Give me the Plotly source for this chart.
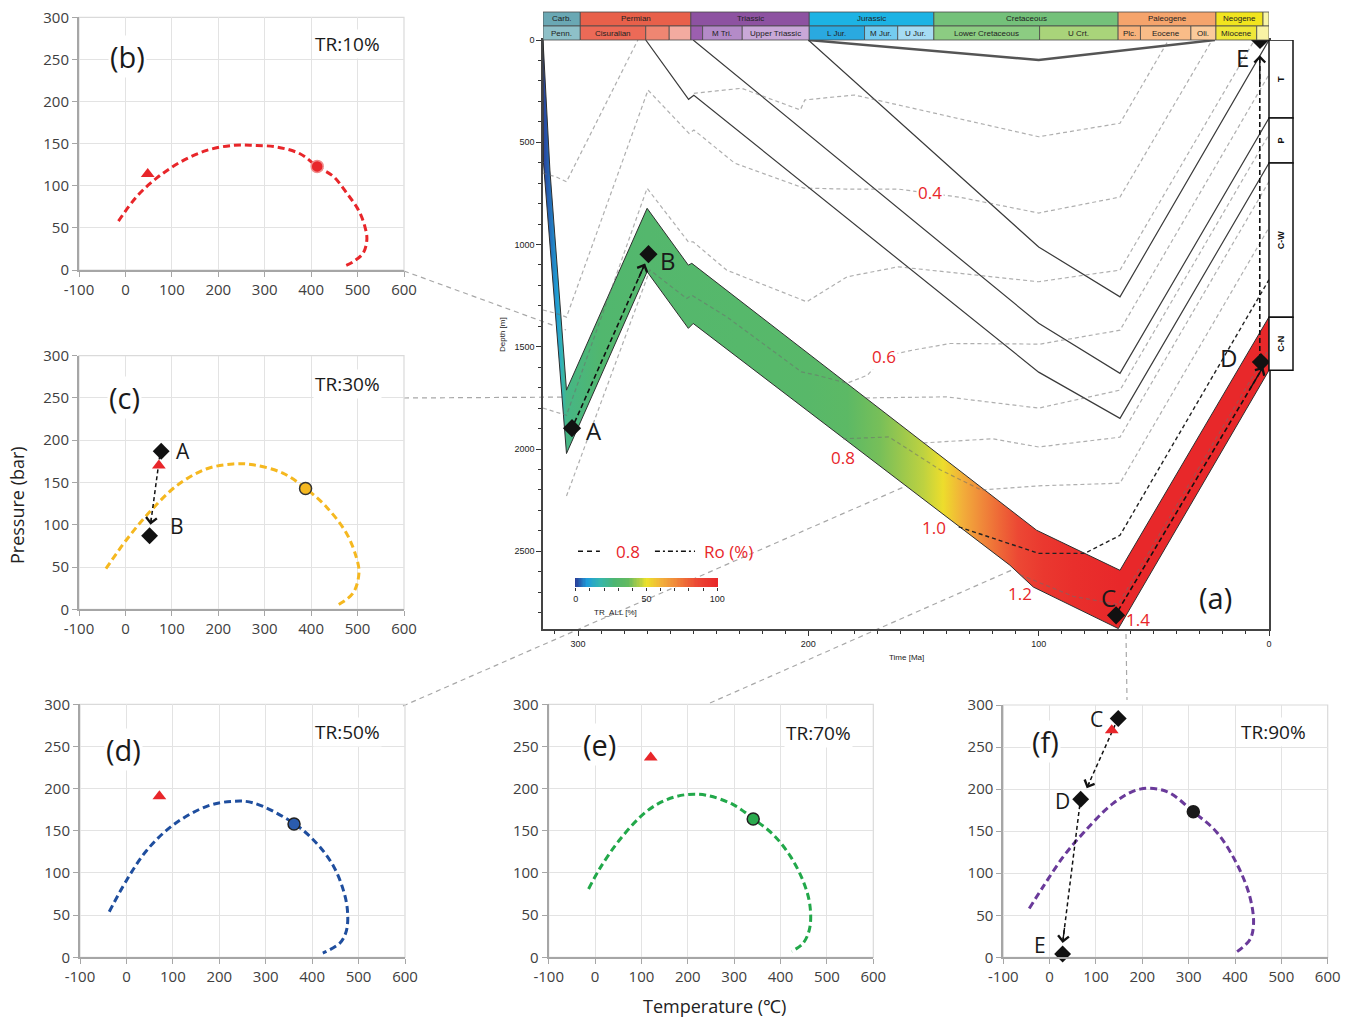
import plotly.graph_objects as go
from plotly.colors import sample_colorscale

W, H = 1357, 1019
SANS = "Open Sans, Noto Sans, sans-serif"
NARROW = "Liberation Sans Narrow, Liberation Sans, Arial, sans-serif"
RED = "#E8262A"

# ---------------------------------------------------------------- data (a)
time_ticks = [300, 200, 100, 0]
depth_ticks = [0, 500, 1000, 1500, 2000, 2500]

period_names = ["Carb.", "Permian", "Triassic", "Jurassic", "Cretaceous", "Paleogene", "Neogene", ""]
period_start = [315.2, 299.0, 251.0, 199.6, 145.5, 65.5, 23.03, 2.59]
period_end = [299.0, 251.0, 199.6, 145.5, 65.5, 23.03, 2.59, 0.0]
period_colors = ["#6AA8B4", "#E8604A", "#8D52A1", "#1CB3E4", "#74C17A", "#F5A46C", "#F1E41E", "#F8F6A6"]

epoch_names = ["Penn.", "Cisuralian", "", "", "", "M Tri.", "Upper Triassic", "L Jur.", "M Jur.",
               "U Jur.", "Lower Cretaceous", "U Crt.", "Plc.", "Eocene", "Oli.", "Miocene", ""]
epoch_start = [315.2, 299.0, 270.6, 260.4, 251.0, 245.9, 228.7, 199.6, 175.6, 161.2, 145.5, 99.6,
               65.5, 55.8, 33.9, 23.03, 5.33]
epoch_end = [299.0, 270.6, 260.4, 251.0, 245.9, 228.7, 199.6, 175.6, 161.2, 145.5, 99.6, 65.5,
             55.8, 33.9, 23.03, 5.33, 0.0]
epoch_colors = ["#8EC0C8", "#EC6A57", "#EF8672", "#F3ABA0", "#9C5FAF", "#B48BC8", "#C9A8D8",
                "#2AA9E0", "#74CBEF", "#A6DCF3", "#8CCC82", "#A9D47A", "#F8B27B", "#F9BC88",
                "#FBCB9B", "#EFE739", "#F8F3A5"]

# formation column (present-day depth, m)
form_names = ["T", "P", "C-W", "C-N"]
form_top = [0, 382, 602, 1356]
form_base = [382, 602, 1356, 1615]

# burial horizons (time Ma, depth m)
h_top_t = [200.0, 100.0, 23.5]
h_top_d = [0, 98, 0]
h3_t = [200.0, 100.0, 64.7, 0.0]
h3_d = [0, 1012, 1256, 0]
h2_t = [250.0, 100.0, 64.7, 0.0]
h2_d = [0, 1385, 1630, 382]
h1_t = [270.6, 252.0, 249.7, 100.0, 64.7, 0.0]
h1_d = [0, 290, 270, 1624, 1850, 602]

# source-rock band
band_top_t = [315.2, 312.2, 305.0, 270.0, 252.1, 250.6, 100.9, 64.7, 0.0]
band_top_d = [0, 636, 1712, 823, 1101, 1092, 2397, 2593, 1354]
band_bot_t = [315.2, 315.0, 305.0, 270.0, 252.1, 250.0, 112.5, 102.3, 65.4, 0.0]
band_bot_d = [0, 600, 2022, 1133, 1410, 1386, 2568, 2675, 2878, 1615]

# transformation ratio along time (%)
tr_time = [315.2, 312.0, 309.0, 307.0, 305.0, 290.0, 270.0, 230.0, 200.0, 183.0, 169.0, 161.0,
           150.0, 141.5, 133.0, 125.0, 117.0, 109.0, 98.0, 85.0, 65.0, 0.0]
tr_value = [0, 4, 9, 16, 24, 29, 30, 31, 32, 34, 39, 42, 46, 51, 61, 70, 78, 86, 93, 97, 100, 100]
tr_scale = [[0.0, "#2A3F9A"], [0.08, "#1F9CD8"], [0.17, "#34B6B0"], [0.27, "#4DB672"],
            [0.37, "#63BA60"], [0.45, "#B3CE45"], [0.5, "#ECE22A"], [0.6, "#F2B23A"],
            [0.7, "#F08A3A"], [0.85, "#EC4A35"], [1.0, "#E8282A"]]
colorbar_ticks = [0, 10, 20, 30, 40, 50, 60, 70, 80, 90, 100]
colorbar_ticktext = ["0", "", "", "", "", "50", "", "", "", "", "100"]
colorbar_ramp = list(range(0, 101))

# iso-Ro lines
ro_lines = [
    ([315.2, 309.6, 305.0, 274.0], [651, 669, 693, 0]),
    ([249.7, 229.0, 203.5, 201.5, 180.0, 100.0, 64.7, 43.6], [261, 236, 342, 293, 269, 473, 407, 0]),
    ([315.2, 309.5, 305.0, 269.6, 251.8, 249.7, 232.0, 202.0, 183.5, 161.0, 134.7, 100.0, 64.7, 24.7],
     [1320, 1337, 1355, 245, 457, 440, 602, 724, 729, 729, 768, 846, 768, 0]),
    ([315.2, 305.0, 270.0, 252.1, 250.0, 235.5, 200.7, 183.2, 161.0, 100.0, 64.7, 6.3],
     [1800, 1835, 725, 987, 987, 1125, 1280, 1158, 1109, 1182, 1125, 0]),
    ([305.0, 268.8, 252.8, 250.6, 235.4, 203.0, 196.4, 183.2, 174.3, 167.0, 155.0, 138.5, 99.4, 64.7, 0.0],
     [2230, 1125, 1264, 1248, 1354, 1623, 1639, 1678, 1639, 1546, 1517, 1484, 1487, 1419, 169]),
    ([175.0, 140.0, 100.0, 64.7, 0.0], [1750, 1745, 1800, 1712, 462]),
    ([150.0, 120.0, 100.0, 64.7, 0.0], [1970, 1950, 1990, 1942, 692]),
    ([185.0, 165.0, 143.0, 125.0, 100.0, 64.7, 0.0], [1950, 1941, 2100, 2200, 2180, 2167, 917]),
    ([108.0, 85.0, 65.5, 0.0], [2615, 2720, 2760, 1510]),
]
ro_dark_t = [134.7, 100.0, 80.0, 64.7, 0.0]
ro_dark_d = [2381, 2510, 2510, 2422, 1172]

ro_label_text = ["0.4", "0.6", "0.8", "1.0", "1.2", "1.4"]
ro_label_t = [147.2, 167.2, 185.0, 145.5, 108.0, 56.9]
ro_label_d = [748, 1546, 2040, 2383, 2705, 2833]

pt_names = ["A", "B", "C", "D", "E"]
pt_t = [302.6, 269.4, 66.4, 3.5, 3.9]
pt_d = [1898, 1047, 2813, 1575, 0]
lab_t = [293.1, 261.0, 69.9, 17.4, 11.3]
lab_d = [1908, 1076, 2725, 1551, 88]
arrows_a = [((301.5, 1870), (270.9, 1093)), ((65.5, 2790), (2.5, 1598)), ((4.0, 1560), (4.0, 75))]

# ---------------------------------------------------------------- data (b)-(f)
t_ticks = [-100, 0, 100, 200, 300, 400, 500, 600]
p_ticks = [0, 50, 100, 150, 200, 250, 300]
b_T = [-15, 24, 67, 118, 175, 232, 275, 326, 376, 413, 448, 477, 502, 516, 520, 512, 491, 469]
b_P = [58, 87, 109, 128, 142, 148, 148, 146, 138, 123, 111, 91, 71, 51, 36, 20, 10, 4]
c_T = [-42, 2, 52, 110, 174, 232, 275, 339, 388, 433, 476, 497, 503, 490, 454]
c_P = [48, 82, 115, 146, 166, 172, 171, 161, 143, 121, 90, 62, 43, 19, 4]
d_T = [-37, 1, 44, 101, 173, 230, 274, 360, 410, 446, 467, 476, 474, 460, 423]
d_P = [54, 92, 127, 157, 179, 185, 183, 159, 135, 108, 80, 56, 32, 17, 5]
e_T = [-14, 11, 54, 111, 155, 198, 241, 298, 342, 385, 421, 449, 463, 463, 449, 424]
e_P = [81, 106, 140, 173, 187, 193, 192, 181, 164, 145, 120, 90, 63, 35, 17, 7]
f_T = [-44, -14, 30, 73, 137, 195, 253, 310, 360, 404, 432, 440, 432, 400]
f_P = [58, 84, 120, 148, 183, 200, 197, 173, 149, 111, 72, 40, 21, 5]

panels = [
    dict(tag="(b)", tr="TR:10%", T=b_T, P=b_P, color="#E8262A", cfill="#E8262A", cedge="#F08C8C",
         tri=(48, 114), circ=(413, 123), box=(79, 17.3, 404, 270), lab=(5.5, 254), trpos=(479, 268),
         pts=[], arrows=[]),
    dict(tag="(c)", tr="TR:30%", T=c_T, P=c_P, color="#F5B820", cfill="#F5B820", cedge="#333333",
         tri=(72, 170), circ=(388, 143), box=(79, 355.7, 404, 609.3), lab=(-3, 251), trpos=(479, 267),
         pts=[("A", 77, 187, 124, 187), ("B", 52, 87, 110, 99)],
         arrows=[((74, 182), (54, 100))]),
    dict(tag="(d)", tr="TR:50%", T=d_T, P=d_P, color="#1F4E9E", cfill="#2B5CAE", cedge="#222222",
         tri=(71, 191), circ=(361, 158), box=(80, 704.3, 405, 957.3), lab=(-7, 246), trpos=(477, 267),
         pts=[], arrows=[]),
    dict(tag="(e)", tr="TR:70%", T=e_T, P=e_P, color="#22A84A", cfill="#2BAA4E", cedge="#222222",
         tri=(120, 237), circ=(341, 164), box=(548.7, 704.3, 873.3, 957.3), lab=(8.5, 252),
         trpos=(481, 266), pts=[], arrows=[]),
    dict(tag="(f)", tr="TR:90%", T=f_T, P=f_P, color="#6A3A9A", cfill="#1A1A1A", cedge="#1A1A1A",
         tri=(134, 270), circ=(310, 173), box=(1003.3, 705, 1327.7, 957.3), lab=(-10, 257),
         trpos=(483, 268),
         pts=[("C", 148, 284, 101, 283), ("D", 67, 188, 28, 186), ("E", 28, 4, -21, 15)],
         arrows=[((141, 276), (80, 201)), ((65, 181), (28, 17))]),
]

connectors = [((404, 271), (566, 330)), ((404, 398), (580, 397)), ((403, 706), (929, 476)),
              ((710, 703), (1030, 562)), ((1126, 634), (1127, 700))]

# ---------------------------------------------------------------- figure
fig = go.Figure()
shapes, annots = [], []

# burial horizons
for tt, dd, w, c in [(h_top_t, h_top_d, 2.4, "#555555"), (h3_t, h3_d, 1.2, "#3A3A3A"),
                     (h2_t, h2_d, 1.2, "#3A3A3A"), (h1_t, h1_d, 1.2, "#3A3A3A")]:
    fig.add_trace(go.Scatter(x=tt, y=dd, mode="lines", line=dict(color=c, width=w),
                             hoverinfo="skip", xaxis="x", yaxis="y"))

# source-rock band with TR gradient
grad = sorted([[t / 315.2, sample_colorscale(tr_scale, [v / 100.0])[0]] for t, v in zip(tr_time, tr_value)])
grad[0][0] = 0.0
grad[-1][0] = 1.0
fig.add_trace(go.Scatter(
    x=band_top_t + band_bot_t[::-1], y=band_top_d + band_bot_d[::-1], mode="lines",
    fill="toself", line=dict(color="#2E2E2E", width=1),
    fillgradient=dict(type="horizontal", colorscale=grad, start=0, stop=315.2),
    hoverinfo="skip", xaxis="x", yaxis="y"))

# iso-Ro lines
for tt, dd in ro_lines:
    fig.add_trace(go.Scatter(x=tt, y=dd, mode="lines",
                             line=dict(color="rgba(110,110,110,0.55)", width=1.2, dash="4px,3px"),
                             hoverinfo="skip", xaxis="x", yaxis="y"))
fig.add_trace(go.Scatter(x=ro_dark_t, y=ro_dark_d, mode="lines",
                         line=dict(color="#222222", width=1.4, dash="4px,3px"),
                         hoverinfo="skip", xaxis="x", yaxis="y"))

# legend samples inside (a)
fig.add_trace(go.Scatter(x=[300, 290.5], y=[2500, 2500], mode="lines",
                         line=dict(color="#111", width=1.5, dash="5px,4px"), hoverinfo="skip"))
fig.add_trace(go.Scatter(x=[266.6, 249.2], y=[2500, 2500], mode="lines",
                         line=dict(color="#111", width=1.5, dash="5px,3px,2px,3px"), hoverinfo="skip"))
annots.append(dict(x=278.3, y=2500, xref="x", yref="y", text="0.8", showarrow=False,
                   font=dict(family=SANS, size=17, color=RED)))
annots.append(dict(x=234.5, y=2500, xref="x", yref="y", text="Ro (%)", showarrow=False,
                   font=dict(family=SANS, size=17, color=RED)))

# arrows in (a)
for (s, e) in arrows_a:
    fig.add_trace(go.Scatter(x=[s[0], e[0]], y=[s[1], e[1]], mode="lines",
                             line=dict(color="#111", width=1.6, dash="5px,3px"), hoverinfo="skip"))
    annots.append(dict(x=e[0], y=e[1], ax=e[0] + 0.1 * (s[0] - e[0]), ay=e[1] + 0.1 * (s[1] - e[1]),
                       xref="x", yref="y", axref="x", ayref="y", text="", showarrow=True,
                       arrowhead=4, arrowsize=1.5, arrowwidth=1.4, arrowcolor="#111"))

# points in (a)
fig.add_trace(go.Scatter(x=pt_t, y=pt_d, mode="markers", cliponaxis=False,
                         marker=dict(symbol="diamond", size=14, color="#111"), hoverinfo="skip"))
for n, tt, dd in zip(pt_names, lab_t, lab_d):
    annots.append(dict(x=tt, y=dd, xref="x", yref="y", text=n, showarrow=False,
                       font=dict(family=SANS, size=24, color="#1A1A1A")))
annots.append(dict(x=23.4, y=2725, xref="x", yref="y", text="(a)", showarrow=False,
                   font=dict(family=SANS, size=29, color="#1A1A1A")))

for txt, tt, dd in zip(ro_label_text, ro_label_t, ro_label_d):
    annots.append(dict(x=tt, y=dd, xref="x", yref="y", text=txt, showarrow=False,
                       bgcolor="white" if txt in ("0.4", "0.6") else None,
                       font=dict(family=SANS, size=17, color=RED)))

# colour bar legend drawn as its own tiny heatmap axis
fig.add_trace(go.Heatmap(z=[colorbar_ramp], x=colorbar_ramp, y=[0], colorscale=tr_scale, zmin=0, zmax=100,
                         showscale=False, hoverinfo="skip", xaxis="x7", yaxis="y7"))

def paper_text(x, y, text, size, family=NARROW, angle=0, color="#222"):
    return dict(x=x / W, y=1 - y / H, xref="paper", yref="paper", text=text, showarrow=False,
                xanchor="center", yanchor="middle", textangle=angle,
                font=dict(family=family, size=size, color=color))

annots.append(paper_text(615, 612, "TR_ALL [%]", 8))
annots.append(paper_text(906, 657, "Time [Ma]", 8))
annots.append(paper_text(502, 335, "Depth [m]", 8, angle=-90))

# geologic time header
row1 = (1 - 26 / H, 1 - 12 / H)
row2 = (1 - 40 / H, 1 - 26 / H)
for n, s, e, c in zip(period_names, period_start, period_end, period_colors):
    shapes.append(dict(type="rect", xref="x", yref="paper", x0=s, x1=e, y0=row1[0], y1=row1[1],
                       fillcolor=c, line=dict(color="#4A4A4A", width=0.8), layer="above"))
    if n:
        annots.append(dict(x=(s + e) / 2, y=sum(row1) / 2, xref="x", yref="paper", text=n,
                           xanchor="center", yanchor="middle",
                           showarrow=False, font=dict(family=NARROW, size=8, color="#222")))
for n, s, e, c in zip(epoch_names, epoch_start, epoch_end, epoch_colors):
    shapes.append(dict(type="rect", xref="x", yref="paper", x0=s, x1=e, y0=row2[0], y1=row2[1],
                       fillcolor=c, line=dict(color="#4A4A4A", width=0.8), layer="above"))
    if n:
        annots.append(dict(x=(s + e) / 2, y=sum(row2) / 2, xref="x", yref="paper", text=n,
                           xanchor="center", yanchor="middle",
                           showarrow=False, font=dict(family=NARROW, size=8, color="#222")))

# formation column
for n, a, b in zip(form_names, form_top, form_base):
    shapes.append(dict(type="rect", xref="paper", yref="y", x0=1269 / W, x1=1293 / W, y0=a, y1=b,
                       fillcolor="white", line=dict(color="#111", width=1.5), layer="above"))
    annots.append(dict(x=1281 / W, y=(a + b) / 2, xref="paper", yref="y", text="<b>%s</b>" % n,
                       xanchor="center", yanchor="middle",
                       textangle=-90, showarrow=False, font=dict(family=NARROW, size=9, color="#111")))

# connectors
for (p0, p1) in connectors:
    shapes.append(dict(type="line", xref="paper", yref="paper", x0=p0[0] / W, y0=1 - p0[1] / H,
                       x1=p1[0] / W, y1=1 - p1[1] / H, layer="below",
                       line=dict(color="#A8A8A8", width=1.2, dash="5px,4px")))

layout_axes = {}
layout_axes["xaxis"] = dict(domain=[543 / W, 1269 / W], range=[315.2, 0], anchor="y", tick0=0, dtick=100,
                            ticks="outside", ticklen=5, tickcolor="#333", showline=True, linecolor="#444",
                            linewidth=1.5, mirror=True, showgrid=False, zeroline=False, automargin=False,
                            minor=dict(dtick=10, ticks="outside", ticklen=3, tickcolor="#333", showgrid=False),
                            tickfont=dict(family=NARROW, size=9, color="#222"))
layout_axes["yaxis"] = dict(domain=[1 - 629 / H, 1 - 40 / H], range=[2880, 0], anchor="x", tick0=0, dtick=500,
                            ticks="outside", ticklen=5, tickcolor="#333", showline=True, linecolor="#444",
                            linewidth=1.5, mirror=True, showgrid=False, zeroline=False, automargin=False,
                            minor=dict(dtick=100, ticks="outside", ticklen=3, tickcolor="#333", showgrid=False),
                            tickfont=dict(family=NARROW, size=9, color="#222"))
layout_axes["xaxis7"] = dict(domain=[575 / W, 718 / W], range=[-0.5, 100.5], anchor="y7",
                             tickvals=colorbar_ticks, ticktext=colorbar_ticktext, ticks="outside",
                             ticklen=3, tickcolor="#333", showgrid=False, zeroline=False, showline=False,
                             automargin=False, tickfont=dict(family=NARROW, size=9, color="#222"))
layout_axes["yaxis7"] = dict(domain=[1 - 587 / H, 1 - 578 / H], range=[-0.5, 0.5], anchor="x7",
                             showticklabels=False, showgrid=False, zeroline=False, ticks="", automargin=False)

# small panels
for i, p in enumerate(panels):
    k = i + 2
    xa, ya = "x%d" % k, "y%d" % k
    x0, y0, x1, y1 = p["box"]
    common = dict(showgrid=True, gridcolor="#E3E3E3", gridwidth=1, showline=True, linecolor="#A6A6A6",
                  linewidth=2, ticks="outside", ticklen=5, tickcolor="#A6A6A6", zeroline=False,
                  automargin=False, tickfont=dict(family=SANS, size=15, color="#404040"))
    layout_axes["xaxis%d" % k] = dict(domain=[x0 / W, x1 / W], range=[-100, 600], tickvals=t_ticks,
                                      ticktext=[str(v) for v in t_ticks], anchor=ya, **common)
    layout_axes["yaxis%d" % k] = dict(domain=[1 - y1 / H, 1 - y0 / H], range=[0, 300], tickvals=p_ticks,
                                      ticktext=[str(v) for v in p_ticks], anchor=xa, **common)
    shapes.append(dict(type="rect", xref=xa + " domain", yref=ya + " domain", x0=0, x1=1, y0=0, y1=1,
                       line=dict(color="#DADADA", width=1.2), layer="below"))
    fig.add_trace(go.Scatter(x=p["T"], y=p["P"], mode="lines", line_shape="spline",
                             line=dict(color=p["color"], width=3, dash="7px,4px"),
                             hoverinfo="skip", xaxis=xa, yaxis=ya))
    for (s, e) in p["arrows"]:
        fig.add_trace(go.Scatter(x=[s[0], e[0]], y=[s[1], e[1]], mode="lines",
                                 line=dict(color="#111", width=1.5, dash="4px,3px"),
                                 hoverinfo="skip", xaxis=xa, yaxis=ya))
        annots.append(dict(x=e[0], y=e[1], ax=e[0] + 0.12 * (s[0] - e[0]), ay=e[1] + 0.12 * (s[1] - e[1]),
                           xref=xa, yref=ya, axref=xa, ayref=ya, text="", showarrow=True,
                           arrowhead=4, arrowsize=1.5, arrowwidth=1.4, arrowcolor="#111"))
    fig.add_trace(go.Scatter(x=[p["tri"][0]], y=[p["tri"][1]], mode="markers",
                             marker=dict(symbol="triangle-up", size=12, color=RED),
                             hoverinfo="skip", xaxis=xa, yaxis=ya))
    fig.add_trace(go.Scatter(x=[p["circ"][0]], y=[p["circ"][1]], mode="markers",
                             marker=dict(symbol="circle", size=12, color=p["cfill"],
                                         line=dict(color=p["cedge"], width=1.5)),
                             hoverinfo="skip", xaxis=xa, yaxis=ya))
    if p["pts"]:
        fig.add_trace(go.Scatter(x=[q[1] for q in p["pts"]], y=[q[2] for q in p["pts"]], mode="markers",
                                 cliponaxis=False, marker=dict(symbol="diamond", size=13, color="#111"),
                                 hoverinfo="skip", xaxis=xa, yaxis=ya))
        for q in p["pts"]:
            annots.append(dict(x=q[3], y=q[4], xref=xa, yref=ya, text=q[0], showarrow=False,
                               font=dict(family=SANS, size=21, color="#1A1A1A")))
    annots.append(dict(x=p["lab"][0], y=p["lab"][1], xref=xa, yref=ya, text=p["tag"], showarrow=False,
                       bgcolor="white", font=dict(family=SANS, size=29, color="#1A1A1A")))
    annots.append(dict(x=p["trpos"][0], y=p["trpos"][1], xref=xa, yref=ya, text=p["tr"], showarrow=False,
                       bgcolor="white", font=dict(family=SANS, size=19, color="#1A1A1A")))

annots.append(paper_text(17, 505, "Pressure (bar)", 18, family=SANS, angle=-90))
annots.append(paper_text(714, 1006, "Temperature (\u2103)", 18, family=SANS))

fig.update_layout(width=W, height=H, margin=dict(l=0, r=0, t=0, b=0, autoexpand=False),
                  paper_bgcolor="white", plot_bgcolor="white", showlegend=False,
                  shapes=shapes, annotations=annots, **layout_axes)
fig.write_html("out.html")
